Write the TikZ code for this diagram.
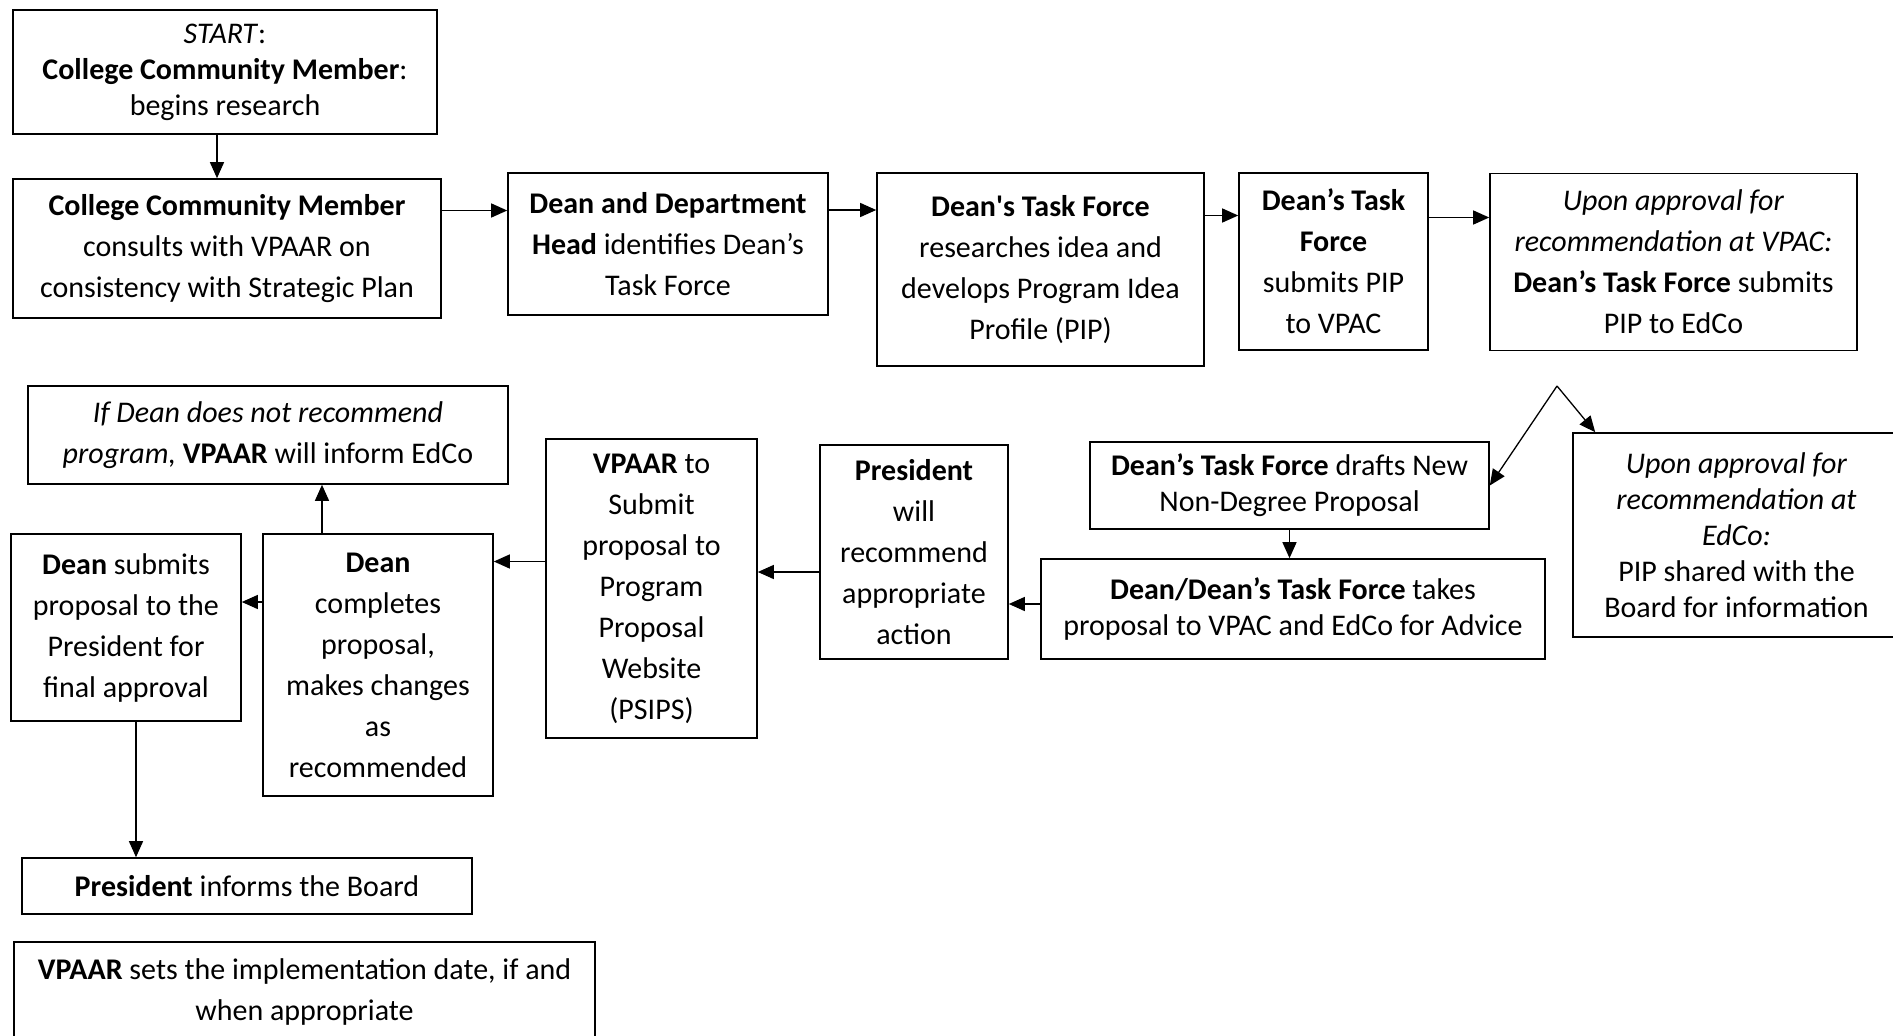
\documentclass[tikz,border=0pt]{standalone}
\usepackage{fontspec}
\setmainfont{Carlito}
\usetikzlibrary{positioning,arrows.meta}

\begin{document}
\begin{tikzpicture}[x=1pt,y=-1pt,
    box/.style={draw,line width=1.6pt,rectangle,align=center,inner sep=0pt,font=\fontsize{30}{41}\selectfont},
    tight/.style={font=\fontsize{30}{36}\selectfont},
    link/.style={-{Triangle[length=16pt,width=14pt]},line width=1.3pt}]
    \useasboundingbox (0,0) rectangle (1893,1036);

    % top row
    \node[box,tight,minimum width=424,minimum height=124] (start) at (225,72)
        {\textit{START}:\\ \textbf{College Community Member}:\\ begins research};
    \node[box,minimum width=428,minimum height=139] (ccm) at (227,248.5)
        {\textbf{College Community Member}\\ consults with VPAAR on\\ consistency with Strategic Plan};
    \node[box,minimum width=320,minimum height=142] (head) at (668,244)
        {\textbf{Dean and Department}\\ \textbf{Head} identifies Dean’s\\ Task Force};
    \node[box,minimum width=327,minimum height=193] (taskforce) at (1040.5,269.5)
        {\textbf{Dean\textquotesingle s Task Force}\\ researches idea and\\ develops Program Idea\\ Profile (PIP)};
    \node[box,minimum width=189,minimum height=177] (submitpip) at (1333.5,261.5)
        {\textbf{Dean’s Task}\\ \textbf{Force}\\ submits PIP\\ to VPAC};
    \node[box,minimum width=367,minimum height=177] (vpac) at (1673.5,262)
        {\textit{Upon approval for}\\ \textit{recommendation at VPAC:}\\ \textbf{Dean’s Task Force} submits\\ PIP to EdCo};

    % right branch
    \coordinate (fork) at (1557,386);
    \node[box,tight,minimum width=327,minimum height=204] (edco) at (1736.5,535)
        {\textit{Upon approval for}\\ \textit{recommendation at}\\ \textit{EdCo:}\\ PIP shared with the\\ Board for information};
    \node[box,tight,minimum width=399,minimum height=87] (drafts) at (1289.5,485.5)
        {\textbf{Dean’s Task Force} drafts New\\ Non-Degree Proposal};
    \node[box,tight,minimum width=504,minimum height=100] (takes) at (1293,609)
        {\textbf{Dean/Dean’s Task Force} takes\\ proposal to VPAC and EdCo for Advice};

    % bottom row, right to left
    \node[box,minimum width=188,minimum height=214] (president) at (914,552)
        {\textbf{President}\\ will\\ recommend\\ appropriate\\ action};
    \node[box,minimum width=211,minimum height=299] (psips) at (651.5,588.5)
        {\textbf{VPAAR} to\\ Submit\\ proposal to\\ Program\\ Proposal\\ Website\\ (PSIPS)};
    \node[box,minimum width=230,minimum height=262] (dean) at (378,665)
        {\textbf{Dean}\\ completes\\ proposal,\\ makes changes\\ as\\ recommended};
    \node[box,minimum width=230,minimum height=187] (final) at (126,627.5)
        {\textbf{Dean} submits\\ proposal to the\\ President for\\ final approval};
    \node[box,minimum width=480,minimum height=98] (inform) at (268,435)
        {\textit{If Dean does not recommend}\\ \textit{program,} \textbf{VPAAR} will inform EdCo};
    \node[box,minimum width=450,minimum height=56] (board) at (247,886)
        {\textbf{President} informs the Board};
    \node[box,minimum width=581,minimum height=100] (implement) at (304.5,992)
        {\textbf{VPAAR} sets the implementation date, if and\\ when appropriate};

    \draw[link] ([xshift=-8pt]start.south) -- ([xshift=-8pt]start.south |- ccm.north);
    \draw[link] ([yshift=38pt]ccm.east) -- ([yshift=38pt]ccm.east -| head.west);
    \draw[link] ([yshift=34pt]head.east) -- ([yshift=34pt]head.east -| taskforce.west);
    \draw[link] ([yshift=54pt]taskforce.east) -- ([yshift=54pt]taskforce.east -| submitpip.west);
    \draw[link] ([yshift=44pt]submitpip.east) -- ([yshift=44pt]submitpip.east -| vpac.west);
    \draw[link] (fork) -- (drafts.east);
    \draw[link] (fork) -- ([xshift=23pt]edco.north west);
    \draw[link] (drafts.south) -- (drafts.south |- takes.north);
    \draw[link] ([yshift=5pt]takes.west) -- ([yshift=5pt]takes.west -| president.east);
    \draw[link] ([yshift=-20pt]president.west) -- ([yshift=-20pt]president.west -| psips.east);
    \draw[link] ([yshift=27pt]psips.west) -- ([yshift=27pt]psips.west -| dean.east);
    \draw[link] ([yshift=63pt]dean.west) -- ([yshift=63pt]dean.west -| final.east);
    \draw[link] ([xshift=-56pt]dean.north) -- ([xshift=-56pt]dean.north |- inform.south);
    \draw[link] ([xshift=10pt]final.south) -- ([xshift=10pt]final.south |- board.north);
\end{tikzpicture}
\end{document}
